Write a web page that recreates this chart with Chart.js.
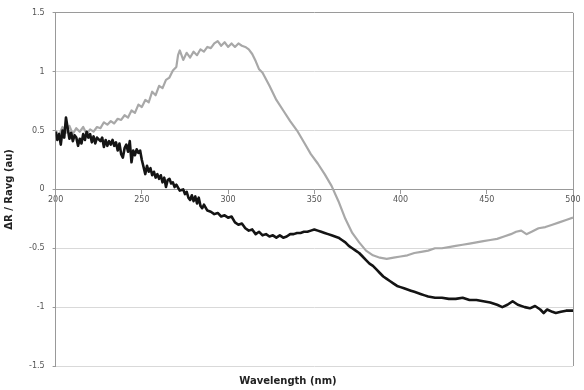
<!DOCTYPE html>
<html>
<head>
<meta charset="utf-8">
<script src="https://cdn.jsdelivr.net/npm/chart.js@4/dist/chart.umd.min.js"></script>
<style>
  html, body { margin:0; padding:0; background:#fff; }
  #box { width:584px; height:390px; }
</style>
</head>
<body>
<div id="box"><canvas id="spec"></canvas></div>
<script>
// wavelength (nm) / dR/Ravg
var grayWl = [200,202,204,206,208,210,212,214,216,218,220,222,224,226,228,230,232,234,236,238,240,242,244,246,248,250,252,254,256,258,260,262,264,266,268,270,271,272,274,276,278,280,282,284,286,288,290,292,294,296,298,300,302,304,306,308,310,312,314,316,318,320,324,328,332,336,340,344,348,352,356,360,364,368,372,376,380,384,388,392,396,400,404,408,412,416,420,424,428,432,436,440,444,448,452,456,460,464,467,470,473,476,480,484,488,492,496,500];
var grayVal = [0.50,0.46,0.53,0.48,0.54,0.47,0.52,0.49,0.53,0.47,0.51,0.49,0.53,0.52,0.57,0.55,0.58,0.56,0.60,0.59,0.63,0.61,0.67,0.65,0.72,0.70,0.76,0.74,0.83,0.80,0.88,0.86,0.93,0.95,1.01,1.04,1.14,1.18,1.10,1.16,1.12,1.17,1.14,1.19,1.17,1.21,1.20,1.24,1.26,1.22,1.25,1.21,1.24,1.21,1.24,1.22,1.21,1.19,1.15,1.09,1.02,0.99,0.88,0.76,0.67,0.58,0.50,0.40,0.30,0.22,0.13,0.03,-0.10,-0.25,-0.37,-0.45,-0.52,-0.56,-0.58,-0.59,-0.58,-0.57,-0.56,-0.54,-0.53,-0.52,-0.50,-0.50,-0.49,-0.48,-0.47,-0.46,-0.45,-0.44,-0.43,-0.42,-0.40,-0.38,-0.36,-0.35,-0.38,-0.36,-0.33,-0.32,-0.30,-0.28,-0.26,-0.24];

var blackWl = [200,201,202,203,204,205,206,207,208,209,210,211,212,213,214,215,216,217,218,219,220,221,222,223,224,226,227,228,229,230,231,232,233,234,235,236,237,238,239,240,241,242,243,244,245,246,247,248,249,250,251,252,253,254,255,256,257,258,259,260,261,262,263,264,265,266,267,268,269,270,272,274,275,276,277,278,279,280,281,282,283,284,285,286,288,290,292,294,296,298,300,302,304,306,308,310,312,314,316,318,320,322,324,326,328,330,332,334,336,338,340,342,344,346,348,350,352,354,356,358,360,362,364,366,368,370,372,374,376,378,380,382,384,386,388,390,392,394,396,398,400,402,404,406,408,410,412,414,416,420,424,428,432,436,440,444,448,452,456,459,462,465,468,472,475,478,481,483,485,488,490,493,496,500];
var blackVal = [0.49,0.42,0.47,0.38,0.50,0.44,0.61,0.52,0.43,0.48,0.41,0.46,0.44,0.37,0.43,0.39,0.47,0.42,0.49,0.44,0.47,0.40,0.45,0.39,0.44,0.41,0.44,0.36,0.42,0.37,0.41,0.38,0.42,0.37,0.40,0.33,0.39,0.30,0.27,0.35,0.38,0.32,0.41,0.23,0.33,0.29,0.34,0.31,0.33,0.25,0.19,0.13,0.20,0.15,0.18,0.12,0.15,0.10,0.13,0.09,0.12,0.06,0.10,0.02,0.08,0.09,0.05,0.06,0.02,0.04,-0.01,0.00,-0.04,-0.02,-0.07,-0.09,-0.05,-0.10,-0.06,-0.12,-0.07,-0.14,-0.16,-0.13,-0.18,-0.19,-0.21,-0.20,-0.23,-0.22,-0.24,-0.23,-0.28,-0.30,-0.29,-0.33,-0.35,-0.34,-0.38,-0.36,-0.39,-0.38,-0.40,-0.39,-0.41,-0.39,-0.41,-0.40,-0.38,-0.38,-0.37,-0.37,-0.36,-0.36,-0.35,-0.34,-0.35,-0.36,-0.37,-0.38,-0.39,-0.40,-0.41,-0.43,-0.45,-0.48,-0.50,-0.52,-0.54,-0.57,-0.60,-0.63,-0.65,-0.68,-0.71,-0.74,-0.76,-0.78,-0.80,-0.82,-0.83,-0.84,-0.85,-0.86,-0.87,-0.88,-0.89,-0.90,-0.91,-0.92,-0.92,-0.93,-0.93,-0.92,-0.94,-0.94,-0.95,-0.96,-0.98,-1.00,-0.98,-0.95,-0.98,-1.00,-1.01,-0.99,-1.02,-1.05,-1.02,-1.04,-1.05,-1.04,-1.03,-1.03];

var xTicks = [200,250,300,350,400,450,500];
var yTicks = [1.5,1,0.5,0,-0.5,-1,-1.5];

function pts(wl, v){
  var out = [];
  for (var i=0;i<wl.length;i++){ out.push({x:wl[i], y:v[i]}); }
  return out;
}

var ctx = document.getElementById("spec").getContext("2d");
var fnt = "'DejaVu Sans', Verdana, sans-serif";
var myChart = new Chart(ctx, {
  type: 'line',
  data: {
    datasets: [{
      data: pts(grayWl, grayVal),
      borderColor: '#a8a8a8',
      borderWidth: 2.2,
      borderJoinStyle: 'round',
      pointRadius: 0,
      tension: 0,
      order: 2
    }, {
      data: pts(blackWl, blackVal),
      borderColor: '#141414',
      borderWidth: 2.6,
      borderJoinStyle: 'round',
      pointRadius: 0,
      tension: 0,
      order: 1
    }]
  },
  options: {
    animation: false,
    responsive: true,
    maintainAspectRatio: false,
    layout: { padding: { top: 12, right: 11, left: 3, bottom: 2 } },
    plugins: {
      legend: { display: false },
      tooltip: { enabled: false },
      title: {
        display: true,
        position: 'bottom',
        text: 'Wavelength (nm)',
        color: '#222',
        font: { family: fnt, size: 10, weight: 'bold' },
        padding: { top: 9, bottom: 1 }
      }
    },
    scales: {
      x: {
        type: 'linear',
        position: { y: 0 },
        min: 200, max: 500,
        afterBuildTicks: function(ax){ ax.ticks = xTicks.map(function(v){ return {value:v}; }); },
        ticks: { color: '#555', font: { family: fnt, size: 8 }, padding: 2,
                 callback: function(v){ return String(v); } },
        grid: {
          color: function(c){ return c.tick && c.tick.value === 500 ? '#9a9a9a' : 'rgba(0,0,0,0)'; },
          tickColor: '#999',
          tickLength: 4
        },
        border: { color: '#999', width: 1 }
      },
      y: {
        min: -1.5, max: 1.5,
        afterBuildTicks: function(ax){ ax.ticks = yTicks.map(function(v){ return {value:v}; }); },
        ticks: { color: '#555', font: { family: fnt, size: 8 }, padding: 8,
                 callback: function(v){ return String(v); } },
        grid: {
          color: function(c){ return c.tick && c.tick.value === 1.5 ? '#9a9a9a' : '#d9d9d9'; },
          tickColor: '#999',
          tickLength: 3
        },
        border: { color: '#999', width: 1 },
        title: {
          display: true,
          text: 'ΔR / Ravg (au)',
          color: '#222',
          font: { family: fnt, size: 10, weight: 'bold' },
          padding: { top: 0, bottom: 6 }
        }
      }
    }
  }
});
</script>
</body>
</html>
